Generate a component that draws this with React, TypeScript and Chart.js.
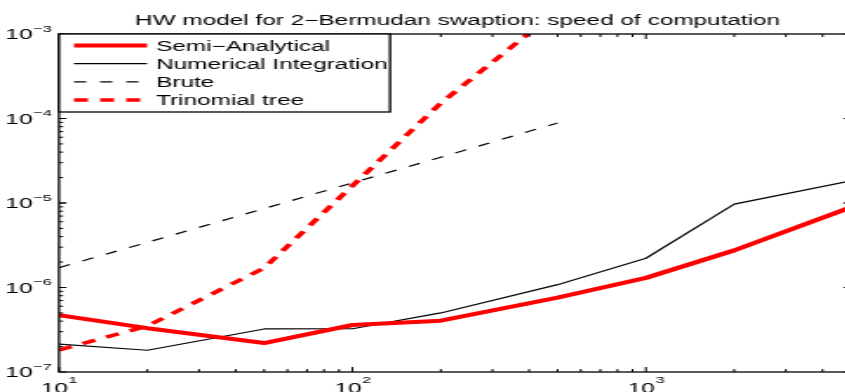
import React, { useEffect, useRef } from "react";
import { Chart, registerables } from "chart.js";

Chart.register(...registerables);

// ---- data ----
const gridSizes = [10, 20, 50, 100, 200, 500, 1000, 2000, 5000];
const semiAnalytical = [4.7e-7, 3.3e-7, 2.2e-7, 3.6e-7, 4.05e-7, 7.6e-7, 1.3e-6, 2.75e-6, 8.9e-6];
const numericalIntegration = [2.14e-7, 1.81e-7, 3.23e-7, 3.25e-7, 5.0e-7, 1.08e-6, 2.22e-6, 9.7e-6, 1.83e-5];
const bruteSizes = [10, 20, 50, 100, 200, 500];
const brute = [1.72e-6, 3.42e-6, 8.6e-6, 1.73e-5, 3.48e-5, 8.85e-5];
const trinomialSizes = [10, 20, 50, 100, 200, 500];
const trinomialTree = [1.82e-7, 3.5e-7, 1.7e-6, 1.6e-5, 1.52e-4, 1.9e-3];

const seriesNames = ["Semi\u2212Analytical", "Numerical Integration", "Brute", "Trinomial tree"];
const chartTitle = "HW model for 2\u2212Bermudan swaption: speed of computation";
const xTickValues = [10, 100, 1000];
const xTickExponents = ["1", "2", "3"];
const yTickValues = [1e-7, 1e-6, 1e-5, 1e-4, 1e-3];
const yTickExponents = ["\u22127", "\u22126", "\u22125", "\u22124", "\u22123"];

// ---- layout (unstretched canvas, stretched horizontally by SX) ----
const SX = 1.74;
const CW = 492;
const CH = 392;
const FONT = '"Liberation Sans", Arial, Helvetica, sans-serif';

const styles = [
  { color: "#ff0000", width: 4, dash: [] as number[] },
  { color: "#000000", width: 1.2, dash: [] as number[] },
  { color: "#000000", width: 1.2, dash: [7, 8] },
  { color: "#ff0000", width: 3.5, dash: [8, 7] },
];

const decorPlugin = {
  id: "decor",
  afterDraw(chart: any) {
    const ctx: CanvasRenderingContext2D = chart.ctx;
    const { left, right, top, bottom } = chart.chartArea;
    const xs = chart.scales.x;
    const ys = chart.scales.y;
    ctx.save();

    // axes box
    ctx.strokeStyle = "#000";
    ctx.lineWidth = 1.3;
    ctx.setLineDash([]);
    ctx.strokeRect(left, top, right - left, bottom - top);

    // x ticks (inward, bottom & top)
    ctx.lineWidth = 1;
    ctx.beginPath();
    for (let d = 1; d <= 3; d++) {
      for (let m = 1; m <= 9; m++) {
        const v = m * Math.pow(10, d);
        if (v < xs.min || v > xs.max) continue;
        const px = xs.getPixelForValue(v);
        const len = m === 1 ? 5 : 3;
        ctx.moveTo(px, bottom);
        ctx.lineTo(px, bottom - len);
        ctx.moveTo(px, top);
        ctx.lineTo(px, top + len);
      }
    }
    // y ticks (inward, left & right)
    for (let d = -7; d <= -4; d++) {
      for (let m = 1; m <= 10; m++) {
        const v = m * Math.pow(10, d);
        if (v < ys.min * 0.999 || v > ys.max * 1.001) continue;
        const py = ys.getPixelForValue(v);
        const len = m === 1 || m === 10 ? 4.2 : 2.4;
        ctx.moveTo(left, py);
        ctx.lineTo(left + len, py);
        ctx.moveTo(right, py);
        ctx.lineTo(right - len, py);
      }
    }
    ctx.stroke();

    // y tick labels
    ctx.fillStyle = "#000";
    ctx.textBaseline = "alphabetic";
    yTickValues.forEach((v, i) => {
      const py = ys.getPixelForValue(v);
      ctx.font = `9.5px ${FONT}`;
      ctx.textAlign = "right";
      const ex = yTickExponents[i];
      const ew = ctx.measureText(ex).width;
      const xr = left - 4;
      ctx.fillText(ex, xr, py - 2.2);
      ctx.font = `14px ${FONT}`;
      ctx.fillText("10", xr - ew - 0.4, py + 5);
    });

    // x tick labels
    xTickValues.forEach((v, i) => {
      const px = xs.getPixelForValue(v);
      ctx.font = `14px ${FONT}`;
      const w10 = ctx.measureText("10").width;
      ctx.font = `9.5px ${FONT}`;
      const ex = xTickExponents[i];
      const ew = ctx.measureText(ex).width;
      const start = px - (w10 + ew) / 2;
      ctx.textAlign = "left";
      ctx.font = `14px ${FONT}`;
      ctx.fillText("10", start, bottom + 21);
      ctx.font = `9.5px ${FONT}`;
      ctx.fillText(ex, start + w10 + 0.3, bottom + 11);
    });

    // title
    ctx.font = `14px ${FONT}`;
    ctx.textAlign = "center";
    ctx.fillText(chartTitle, 263, 25);

    // legend
    const lx0 = left;
    const lx1 = 390 / SX;
    const ly0 = top;
    const ly1 = 112;
    ctx.fillStyle = "#fff";
    ctx.fillRect(lx0, ly0, lx1 - lx0, ly1 - ly0);
    ctx.strokeStyle = "#000";
    ctx.lineWidth = 1.3;
    ctx.strokeRect(lx0, ly0, lx1 - lx0, ly1 - ly0);
    seriesNames.forEach((name, i) => {
      const y = 45.5 + i * 18.2;
      const st = styles[i];
      ctx.beginPath();
      ctx.strokeStyle = st.color;
      ctx.lineWidth = st.width;
      ctx.setLineDash(st.dash);
      ctx.moveTo(74 / SX, y);
      ctx.lineTo(147 / SX, y);
      ctx.stroke();
      ctx.setLineDash([]);
      ctx.fillStyle = "#000";
      ctx.font = `14px ${FONT}`;
      ctx.textAlign = "left";
      ctx.fillText(name, 156 / SX, y + 5);
    });

    ctx.restore();
  },
};

function toPoints(xsArr: number[], ysArr: number[]) {
  return ysArr.map((y, i) => ({ x: xsArr[i], y }));
}

export default function App() {
  const ref = useRef<HTMLCanvasElement | null>(null);

  useEffect(() => {
    document.body.style.margin = "0";
    document.body.style.overflow = "hidden";
    const canvas = ref.current;
    if (!canvas) return;
    const seriesData = [
      toPoints(gridSizes, semiAnalytical),
      toPoints(gridSizes, numericalIntegration),
      toPoints(bruteSizes, brute),
      toPoints(trinomialSizes, trinomialTree),
    ];
    const chart = new Chart(canvas, {
      type: "line",
      data: {
        datasets: seriesNames.map((name, i) => ({
          label: name,
          data: seriesData[i],
          borderColor: styles[i].color,
          borderWidth: styles[i].width,
          borderDash: styles[i].dash,
          pointRadius: 0,
          tension: 0,
          fill: false,
          clip: 0,
          borderJoinStyle: "round" as const,
        })),
      },
      options: {
        animation: false,
        responsive: false,
        devicePixelRatio: 1,
        events: [],
        layout: {
          padding: { left: 59 / SX, right: CW - 851 / SX, top: 34, bottom: CH - 372 },
        },
        scales: {
          x: { type: "logarithmic", min: 10, max: 5000, display: false },
          y: { type: "logarithmic", min: 1e-7, max: 1e-3, display: false },
        },
        plugins: {
          legend: { display: false },
          tooltip: { enabled: false },
          title: { display: false },
        },
      },
      plugins: [decorPlugin],
    } as any);
    return () => chart.destroy();
  }, []);

  return (
    <div style={{ width: 845, height: 392, overflow: "hidden", position: "relative", background: "#fff" }}>
      <div style={{ width: CW, height: CH, transform: `scaleX(${SX})`, transformOrigin: "0 0" }}>
        <canvas ref={ref} width={CW} height={CH} />
      </div>
    </div>
  );
}
